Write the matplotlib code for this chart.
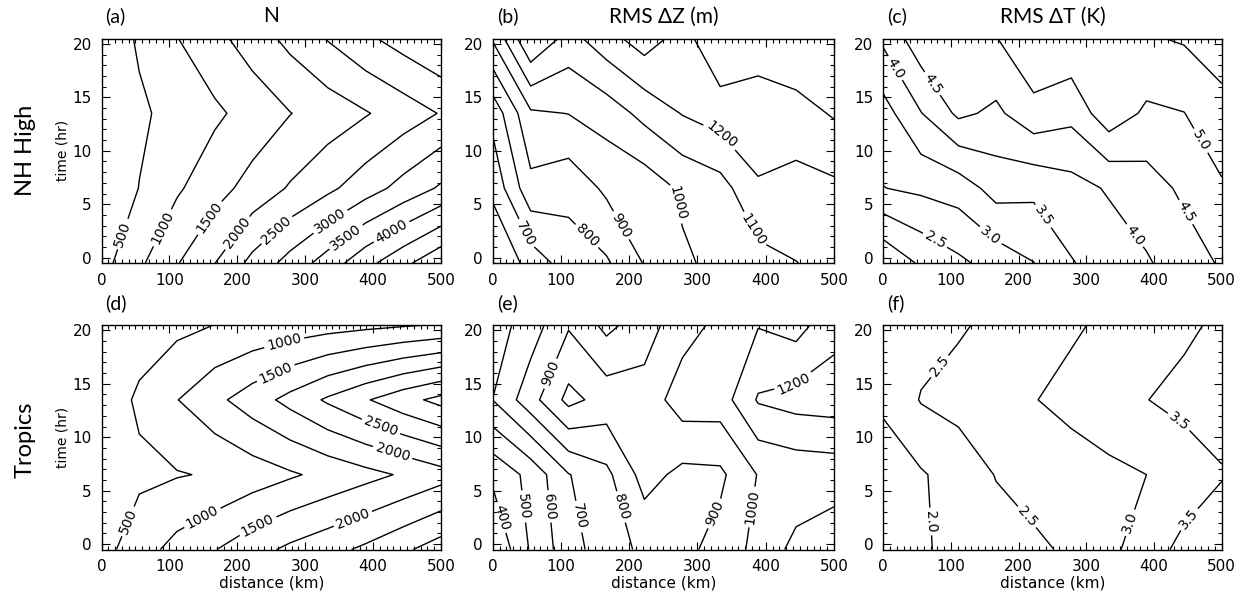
import numpy as np
import matplotlib
matplotlib.use('Agg')
import matplotlib.pyplot as plt
from matplotlib.ticker import MultipleLocator

# grid of the analysis: distance bins (km) and forecast times (hr)
dist = [0, 55.6, 111.1, 166.7, 222.2, 277.8, 333.3, 388.9, 444.4, 500]
time = [-0.5, 6.5, 13.5, 20.5]

# rows = time, cols = distance
# (a) N, NH High
n_nh = [[320, 910, 1467, 1990, 2642, 3183, 3727, 4340, 4870, 5400],
        [100, 510, 930, 1310, 1680, 2050, 2390, 2770, 3170, 3570],
        [173, 419, 664, 910, 1188, 1487, 1725, 1962, 2240, 2530],
        [143, 565, 985, 1353, 1739, 2140, 2530, 2905, 3210, 3500]]

# (b) RMS dZ (m), NH High
z_nh = [[495, 640, 750, 787, 906, 984, 1028, 1063, 1098, 1130],
        [625, 870, 832, 919, 939, 1017, 1060, 1185, 1165, 1180],
        [732, 985, 1002, 1044, 1130, 1205, 1250, 1280, 1259, 1310],
        [1012, 1300, 1162, 1262, 1350, 1260, 1390, 1320, 1390, 1390]]

# (c) RMS dT (K), NH High
t_nh = [[1.55, 2.08, 2.40, 2.70, 2.99, 3.47, 3.72, 3.95, 4.24, 4.56],
        [2.99, 3.10, 3.22, 3.70, 3.62, 3.82, 4.05, 4.27, 4.60, 4.94],
        [3.29, 3.98, 4.60, 4.40, 4.83, 4.65, 5.31, 4.91, 4.99, 5.34],
        [4.10, 4.81, 4.85, 4.98, 5.45, 5.39, 5.45, 5.45, 5.55, 5.74]]

# (d) N, Tropics
n_tr = [[313, 785, 1169, 1481, 1815, 2104, 2336, 2597, 2910, 3250],
        [200, 400, 470, 546, 740, 935, 1138, 1343, 1558, 1800],
        [180, 584, 986, 1372, 1753, 2155, 2576, 2954, 3326, 3650],
        [150, 260, 370, 505, 600, 700, 790, 870, 950, 1030]]

# (e) RMS dZ (m), Tropics
z_tr = [[300, 511, 659, 753, 821, 871, 938, 1030, 1130, 1180],
        [420, 531, 695, 775, 939, 873, 880, 1005, 1031, 1040],
        [701, 860, 1030, 960, 940, 1051, 1050, 1210, 1240, 1250],
        [650, 750, 890, 772, 855, 960, 1024, 1095, 1060, 1167]]

# (f) RMS dT (K), Tropics
t_tr = [[1.50, 1.93, 2.16, 2.30, 2.43, 2.56, 2.88, 3.25, 3.65, 4.00],
        [1.85, 1.95, 2.22, 2.52, 2.64, 2.76, 2.88, 3.00, 3.20, 3.45],
        [2.05, 2.53, 2.66, 2.82, 2.98, 3.15, 3.33, 3.49, 3.65, 3.80],
        [2.10, 2.30, 2.45, 2.60, 2.75, 2.93, 3.10, 3.25, 3.40, 3.60]]

# where the contour labels sit (km, hr)
lab_a = [(27, 2.3), (86, 2.9), (155, 3.9), (194, 2.6), (258, 2.6), (332, 3.9), (356, 2.3), (420, 3.2)]
lab_b = [(50, 2.3), (147, 2.6), (196, 3.3), (272, 5.1), (382, 2.6), (333, 11.4)]
lab_c = [(25, 18), (66, 16), (79, 1.9), (167, 2.7), (239, 4.0), (379, 2.4), (448, 4.3), (468, 10.9)]
lab_d = [(44, 2.0), (145, 2.9), (224, 2.6), (367, 2.9), (268, 19.1), (253, 16.5), (411, 10.9), (430, 8.8)]
lab_e = [(18, 2.6), (42, 3.5), (77, 3.5), (128, 2.6), (189, 3.5), (320, 3.0), (377, 3.5), (79, 16.1), (440, 15.4)]
lab_f = [(84, 16.6), (64, 2.1), (217, 2.8), (360, 2.1), (426, 10.5), (443, 2.8)]

panels = [
    ('(a)', 'N', n_nh, np.arange(500, 6000, 500), '%d', lab_a),
    ('(b)', 'RMS \u0394Z (m)', z_nh, np.arange(500, 1400, 100), '%d', lab_b),
    ('(c)', 'RMS \u0394T (K)', t_nh, np.arange(2.0, 5.51, 0.5), '%.1f', lab_c),
    ('(d)', '', n_tr, np.arange(500, 4000, 500), '%d', lab_d),
    ('(e)', '', z_tr, np.arange(400, 1300, 100), '%d', lab_e),
    ('(f)', '', t_tr, np.arange(1.5, 4.01, 0.5), '%.1f', lab_f),
]

W, H = 1247, 607
fig = plt.figure(figsize=(W / 100, H / 100), dpi=100)
title_font = ['Lato', 'DejaVu Sans']

lefts = [101.5, 492.7, 883.3]
widths = [339.5, 341.3, 338.4]
tops = [38.5, 325]
ph = 224.5

for i, (tag, title, grid, levels, fmt, labpos) in enumerate(panels):
    r, c = divmod(i, 3)
    ax = fig.add_axes([lefts[c] / W, 1 - (tops[r] + ph) / H, widths[c] / W, ph / H])
    cs = ax.contour(dist, time, np.array(grid), levels=levels, colors='k', linewidths=1.0)
    ax.clabel(cs, fmt=fmt, fontsize=10, inline=True, inline_spacing=3, manual=labpos)
    ax.set_xlim(0, 500)
    ax.set_ylim(-0.5, 20.5)
    ax.xaxis.set_major_locator(MultipleLocator(100))
    ax.xaxis.set_minor_locator(MultipleLocator(10))
    ax.yaxis.set_major_locator(MultipleLocator(5))
    ax.yaxis.set_minor_locator(MultipleLocator(1))
    ax.tick_params(which='both', direction='in', top=True, right=True, labelsize=11, pad=7)
    ax.tick_params(which='major', length=6, width=0.8)
    ax.tick_params(which='minor', length=3, width=0.8)
    for s in ax.spines.values():
        s.set_linewidth(1.0)
    if c == 0:
        ax.set_ylabel('time (hr)', fontsize=10, labelpad=2)
    if r == 1:
        ax.set_xlabel('distance (km)', fontsize=11, labelpad=1)
    ty = tops[r] - 22
    fig.text((lefts[c] + 4) / W, 1 - ty / H, tag, fontsize=14, family=title_font, va='center')
    if title:
        fig.text((lefts[c] + widths[c] * 0.5) / W, 1 - ty / H, title, fontsize=15,
                 family=title_font, va='center', ha='center')

fig.text(25 / W, 1 - 150 / H, 'NH High', rotation=90, fontsize=17, family=title_font,
         va='center', ha='center')
fig.text(25 / W, 1 - 440 / H, 'Tropics', rotation=90, fontsize=17, family=title_font,
         va='center', ha='center')

fig.savefig('out.png', dpi=100)
